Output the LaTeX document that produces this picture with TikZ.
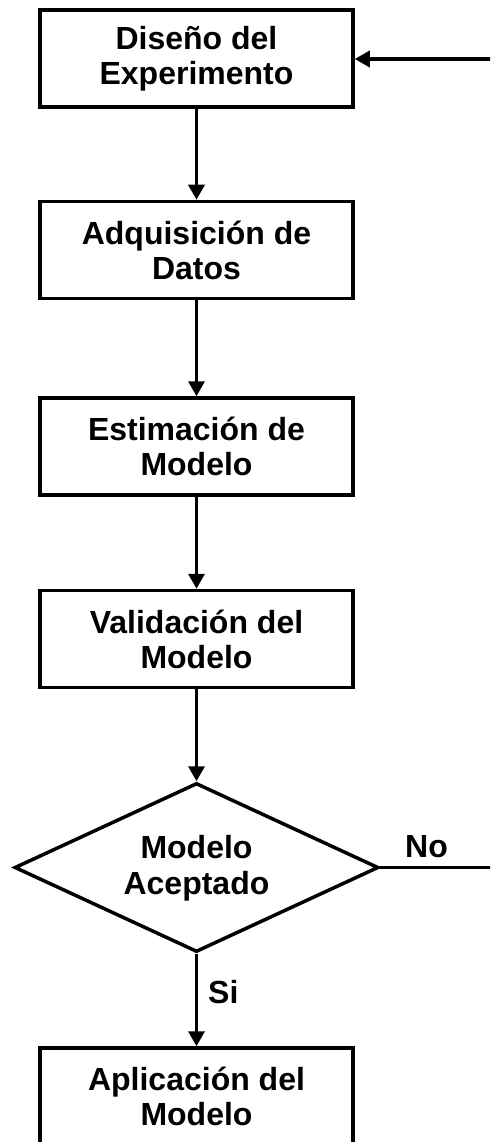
\documentclass[tikz,border=0pt]{standalone}
\usepackage{fontspec}
\setmainfont{Liberation Sans}
\usetikzlibrary{arrows.meta,shapes.geometric}
\begin{document}
\begin{tikzpicture}[x=1pt,y=-1pt,
  stepbox/.style={draw,line width=3.5pt,minimum width=313pt,minimum height=97pt,inner sep=0pt,align=center,font=\fontsize{32}{35}\selectfont\bfseries},
  lbl/.style={font=\fontsize{32}{36}\selectfont\bfseries,align=center,inner sep=0pt},
  conn/.style={line width=3.5pt,-{Triangle[width=16pt,length=15pt]}},
  plain/.style={line width=3.5pt}]
\clip (0,0) rectangle (490,1142);
\useasboundingbox (0,0) rectangle (490,1142);
\node[stepbox] (b1) at (196.5,58.5) {Diseño del\\Experimento};
\node[stepbox] (b2) at (196.5,250) {Adquisición de\\Datos};
\node[stepbox] (b3) at (196.5,446.5) {Estimación de\\Modelo};
\node[stepbox] (b4) at (196.5,639) {Validación del\\Modelo};
\node[diamond,draw,line width=3.5pt,minimum width=364pt,minimum height=169pt,inner sep=0pt,aspect=2.15] (d) at (196.5,867.5) {};
\node[lbl] (dt) at (196.5,868) {Modelo\\Aceptado};
\node[stepbox] (b5) at (196.5,1096.5) {Aplicación del\\Modelo};
\coordinate (eR) at (491,867.5);
\coordinate (eT) at (491,59);
\node[lbl,anchor=base west] (no) at (405,857) {No};
\node[lbl,anchor=base west] (si) at (208,1003) {Si};
\draw[conn] (b1) -- (b2);
\draw[conn] (b2) -- (b3);
\draw[conn] (b3) -- (b4);
\draw[conn] (b4) -- (d.north);
\draw[conn] (d.south) -- (b5);
\draw[plain] (d.east) -- (eR);
\draw[conn] (eT) -- (b1.east |- eT);
\end{tikzpicture}
\end{document}
